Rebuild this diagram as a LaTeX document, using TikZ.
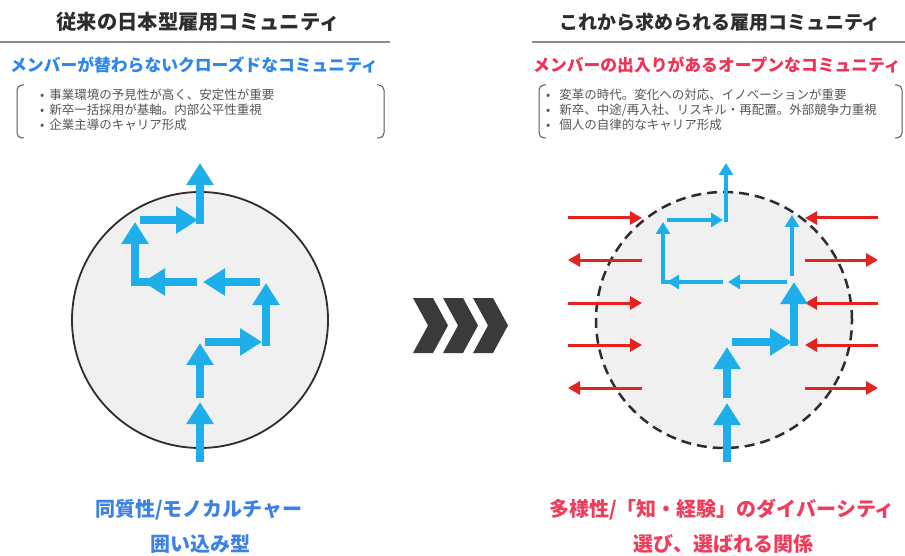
\documentclass[tikz,border=0pt]{standalone}
\usepackage{fontspec}
\setmainfont{Noto Sans CJK JP}
\usetikzlibrary{arrows.meta}
\definecolor{titlegray}{RGB}{45,45,45}
\definecolor{rulegray}{RGB}{140,140,140}
\definecolor{bulletgray}{RGB}{85,85,85}
\definecolor{subblue}{RGB}{45,135,235}
\definecolor{subred}{RGB}{240,50,85}
\definecolor{botblue}{RGB}{60,130,230}
\definecolor{botred}{RGB}{238,62,92}
\definecolor{arrowblue}{RGB}{30,175,235}
\definecolor{arrowred}{RGB}{228,35,30}
\definecolor{circlefill}{RGB}{240,240,240}
\definecolor{chevron}{RGB}{58,58,58}
\tikzset{
  titletext/.style={font=\bfseries\fontsize{20.3}{24}\selectfont, text=titlegray, inner sep=0pt},
  subtext/.style={font=\bfseries\fontsize{16.8}{20}\selectfont, inner sep=0pt},
  bullettext/.style={font=\fontsize{12.5}{14}\selectfont, text=bulletgray, inner sep=0pt, anchor=west},
  bottext/.style={font=\bfseries\fontsize{20}{24}\selectfont, inner sep=0pt},
  headrule/.style={draw=rulegray, line width=2pt},
  bracketline/.style={draw=bulletgray, line width=1pt, rounded corners=5pt},
  bthick/.style={draw=arrowblue, line width=8pt, -{Triangle[width=26pt,length=22pt]}},
  bthin/.style={draw=arrowblue, line width=4pt, -{Triangle[width=14pt,length=12pt]}},
  rarr/.style={draw=arrowred, line width=3pt, -{Triangle[width=13pt,length=12pt]}},
  chev/.style={fill=chevron, draw=none},
}
\begin{document}
\begin{tikzpicture}[x=1pt,y=-1pt]
\useasboundingbox (0,0) rectangle (905,556);

% ---------- left panel ----------
\node[titletext] (lt) at (198,22) {従来の日本型雇用コミュニティ};
\coordinate (lr1) at (0,42);
\coordinate (lr2) at (390,42);
\draw[headrule] (lr1) -- (lr2);
\node[subtext, text=subblue] (ls) at (194,65) {メンバーが替わらないクローズドなコミュニティ};
\draw[bracketline] (24,85) -- (17,85) -- (17,138) -- (24,138);
\draw[bracketline] (377,85) -- (384,85) -- (384,138) -- (377,138);
\node[bullettext] (lb1) at (40,95) {•\hspace{5pt}事業環境の予見性が高く、安定性が重要};
\node[bullettext] (lb2) at (40,110) {•\hspace{5pt}新卒一括採用が基軸。内部公平性重視};
\node[bullettext] (lb3) at (40,125) {•\hspace{5pt}企業主導のキャリア形成};

\node[draw=titlegray, line width=1.8pt, fill=circlefill, circle, minimum size=256pt, inner sep=0pt] (lc) at (200,320) {};

\coordinate (a0) at (200,462);
\coordinate (a1) at (200,402);
\coordinate (a2) at (200,398);
\coordinate (a3) at (200,343);
\coordinate (a4) at (205,342);
\coordinate (a5) at (262,342);
\coordinate (a6) at (266,346);
\coordinate (a7) at (266,283);
\coordinate (a8) at (260,282);
\coordinate (a9) at (203,282);
\coordinate (a10) at (197,282);
\coordinate (a11) at (143,282);
\coordinate (a12) at (149,282);
\coordinate (a13) at (135,222);
\coordinate (a14) at (140,220);
\coordinate (a15) at (198,220);
\coordinate (a16) at (200,224);
\coordinate (a17) at (200,163);
\draw[bthick] (a0) -- (a1);
\draw[bthick] (a2) -- (a3);
\draw[bthick] (a4) -- (a5);
\draw[bthick] (a6) -- (a7);
\draw[bthick] (a8) -- (a9);
\draw[bthick] (a10) -- (a11);
\draw[bthick] (a12) -| (a13);
\draw[bthick] (a14) -- (a15);
\draw[bthick] (a16) -- (a17);

\node[bottext, text=botblue] (lbt1) at (199,510) {同質性/モノカルチャー};
\node[bottext, text=botblue] (lbt2) at (200,544) {囲い込み型};

% ---------- chevrons ----------
\foreach \x in {413,443,473}{
  \fill[chev] (\x,298) -- (\x+20,298) -- (\x+35,325.5) -- (\x+20,353) -- (\x,353) -- (\x+15,325.5) -- cycle;
}

% ---------- right panel ----------
\node[titletext, font=\bfseries\fontsize{19}{24}\selectfont] (rt) at (720,22) {これから求められる雇用コミュニティ};
\coordinate (rr1) at (532,42);
\coordinate (rr2) at (905,42);
\draw[headrule] (rr1) -- (rr2);
\node[subtext, text=subred] (rs) at (717,65) {メンバーの出入りがあるオープンなコミュニティ};
\draw[bracketline] (546,85) -- (539,85) -- (539,138) -- (546,138);
\draw[bracketline] (895,85) -- (902,85) -- (902,138) -- (895,138);
\node[bullettext] (rb1) at (546,95) {•\hspace{9pt}変革の時代。変化への対応、イノベーションが重要};
\node[bullettext] (rb2) at (546,110) {•\hspace{9pt}新卒、中途/再入社、リスキル・再配置。外部競争力重視};
\node[bullettext] (rb3) at (546,125) {•\hspace{9pt}個人の自律的なキャリア形成};

\node[draw=titlegray, line width=2.5pt, dash pattern=on 10pt off 6pt, fill=circlefill, circle, minimum size=256pt, inner sep=0pt] (rc) at (724,320) {};

% red arrows
\coordinate (pl1) at (568,218); \coordinate (ql1) at (642,218);
\coordinate (pl2) at (568,260); \coordinate (ql2) at (642,260);
\coordinate (pl3) at (568,303); \coordinate (ql3) at (642,303);
\coordinate (pl4) at (568,345); \coordinate (ql4) at (642,345);
\coordinate (pl5) at (568,388); \coordinate (ql5) at (642,388);
\coordinate (pr1) at (805,218); \coordinate (qr1) at (878,218);
\coordinate (pr2) at (805,260); \coordinate (qr2) at (878,260);
\coordinate (pr3) at (805,303); \coordinate (qr3) at (878,303);
\coordinate (pr4) at (805,345); \coordinate (qr4) at (878,345);
\coordinate (pr5) at (805,388); \coordinate (qr5) at (878,388);
\draw[rarr] (pl1) -- (ql1);
\draw[rarr] (ql2) -- (pl2);
\draw[rarr] (pl3) -- (ql3);
\draw[rarr] (pl4) -- (ql4);
\draw[rarr] (ql5) -- (pl5);
\draw[rarr] (qr1) -- (pr1);
\draw[rarr] (pr2) -- (qr2);
\draw[rarr] (qr3) -- (pr3);
\draw[rarr] (qr4) -- (pr4);
\draw[rarr] (pr5) -- (qr5);

% blue arrows
\coordinate (c0) at (727,462);
\coordinate (c1) at (727,403);
\coordinate (c2) at (727,398);
\coordinate (c3) at (727,347);
\coordinate (c4) at (732,342);
\coordinate (c5) at (792,342);
\coordinate (c6) at (794,346);
\coordinate (c7) at (794,282);
\coordinate (c8) at (792,276);
\coordinate (c9) at (792,215);
\coordinate (c10) at (787,282);
\coordinate (c11) at (728,282);
\coordinate (c12) at (723,282);
\coordinate (c13) at (667,282);
\coordinate (c14) at (670,282);
\coordinate (c15) at (663,222);
\coordinate (c16) at (667,220);
\coordinate (c17) at (723,220);
\coordinate (c18) at (726,222);
\coordinate (c19) at (726,163);
\draw[bthick] (c0) -- (c1);
\draw[bthick] (c2) -- (c3);
\draw[bthick] (c4) -- (c5);
\draw[bthick] (c6) -- (c7);
\draw[bthin] (c8) -- (c9);
\draw[bthin] (c10) -- (c11);
\draw[bthin] (c12) -- (c13);
\draw[bthin] (c14) -| (c15);
\draw[bthin] (c16) -- (c17);
\draw[bthin] (c18) -- (c19);

\node[bottext, text=botred] (rbt1) at (722,510) {多様性/「知・経験」のダイバーシティ};
\node[bottext, text=botred] (rbt2) at (723,544) {選び、選ばれる関係};
\end{tikzpicture}
\end{document}
